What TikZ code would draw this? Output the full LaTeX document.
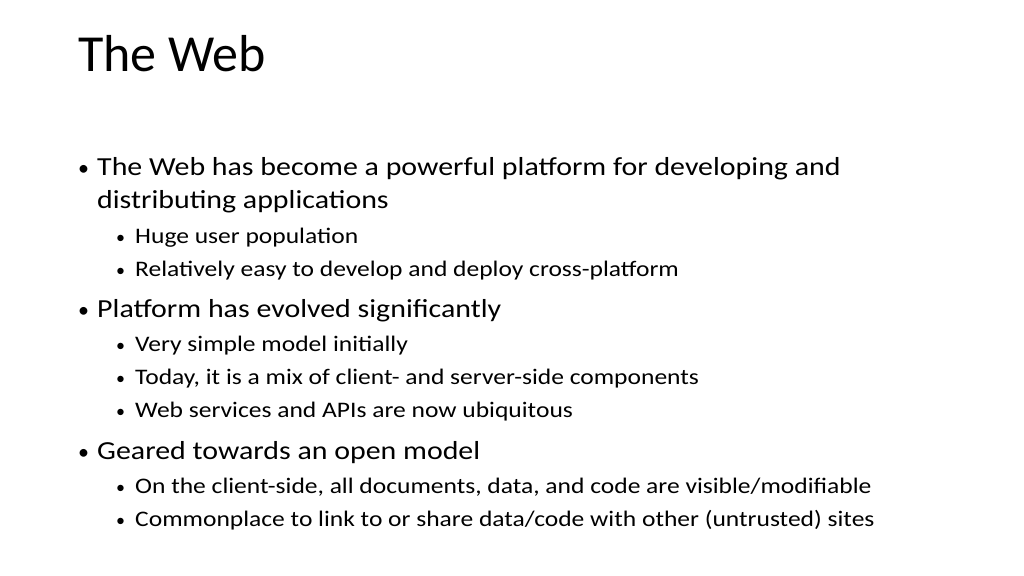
\documentclass[tikz,border=0pt]{standalone}
\usepackage{fontspec}
\setmainfont{Carlito}
\newfontfamily\wide[FakeStretch=1.15]{Carlito}
\begin{document}
\begin{tikzpicture}[x=1pt,y=-1pt,
  t/.style={anchor=base west,inner sep=0pt,text=black},
  l1/.style={t,font=\wide\fontsize{26}{30}\selectfont},
  l2/.style={t,font=\wide\fontsize{22.2}{25}\selectfont},
  b1/.style={t,font=\fontsize{22}{25}\selectfont},
  b2/.style={t,font=\fontsize{18}{22}\selectfont}]
\useasboundingbox (0,0) rectangle (1024,575);
\fill[white] (0,0) rectangle (1024,575);
\node[t,font=\fontsize{52}{60}\selectfont] (title) at (78,72) {The Web};
\node[b1] (b1) at (78,175) {•};
\node[l1] (a) at (97,175) {The Web has become a powerful platform for developing and};
\node[l1] (a2) at (97,208) {distributing applications};
\node[b2] (b2) at (116,243) {•};
\node[l2] (a3) at (135,243) {Huge user population};
\node[b2] (b3) at (116,276) {•};
\node[l2] (a4) at (135,276) {Relatively easy to develop and deploy cross-platform};
\node[b1] (b4) at (78,317) {•};
\node[l1] (c) at (97,317) {Platform has evolved significantly};
\node[b2] (b5) at (116,351) {•};
\node[l2] (c1) at (135,351) {Very simple model initially};
\node[b2] (b6) at (116,384) {•};
\node[l2] (c2) at (135,384) {Today, it is a mix of client- and server-side components};
\node[b2] (b7) at (116,417) {•};
\node[l2] (c3) at (135,417) {Web services and APIs are now ubiquitous};
\node[b1] (b8) at (78,459) {•};
\node[l1] (d) at (97,459) {Geared towards an open model};
\node[b2] (b9) at (116,493) {•};
\node[l2] (d1) at (135,493) {On the client-side, all documents, data, and code are visible/modifiable};
\node[b2] (b10) at (116,526) {•};
\node[l2] (d2) at (135,526) {Commonplace to link to or share data/code with other (untrusted) sites};
\end{tikzpicture}
\end{document}
